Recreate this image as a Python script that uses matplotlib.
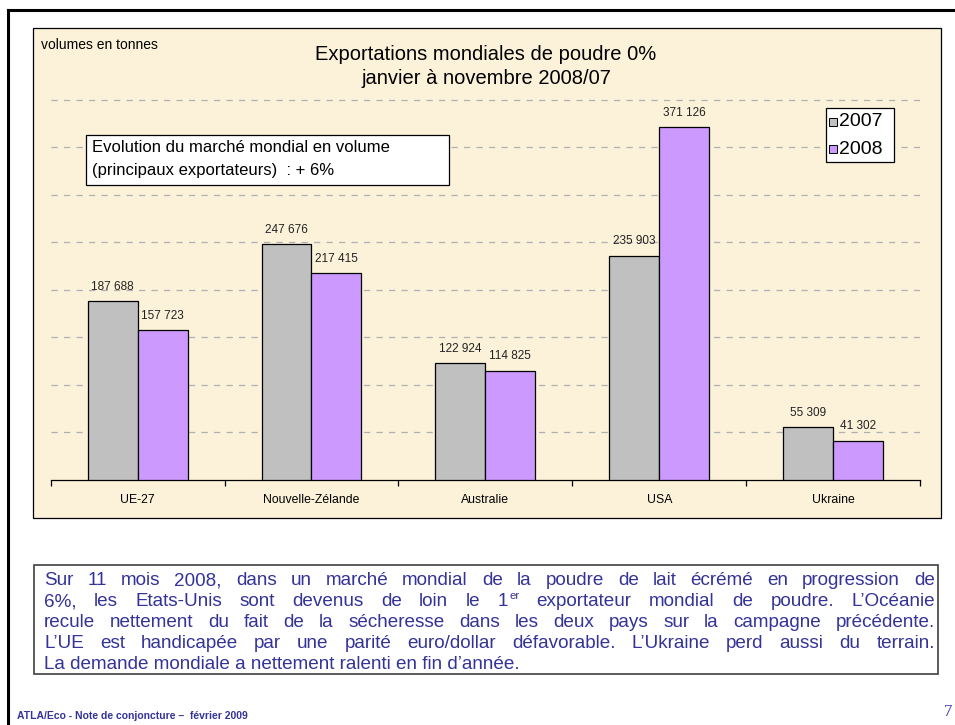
import matplotlib
matplotlib.use("Agg")
import matplotlib.pyplot as plt
import numpy as np
from matplotlib.patches import Rectangle
from matplotlib.lines import Line2D


#############################  DATA  #############################

countries = ["UE-27", "Nouvelle-Zélande", "Australie", "USA", "Ukraine"]
vol_2007 = [187688, 247676, 122924, 235903, 55309]
vol_2008 = [157723, 217415, 114825, 371126, 41302]
years = ["2007", "2008"]

title_lines = ["Exportations mondiales de poudre 0%", "janvier à novembre 2008/07"]
note_lines = ["Evolution du marché mondial en volume",
              "(principaux exportateurs)  : + 6%"]
paragraph = [
    "Sur 11 mois 2008, dans un marché mondial de la poudre de lait écrémé en progression de",
    "6%, les Etats-Unis sont devenus de loin le 1^er exportateur mondial de poudre. L’Océanie",
    "recule nettement du fait de la sécheresse dans les deux pays sur la campagne précédente.",
    "L’UE est handicapée par une parité euro/dollar défavorable. L’Ukraine perd aussi du terrain.",
    "La demande mondiale a nettement ralenti en fin d’année.",
]
footer = "ATLA/Eco - Note de conjoncture –  février 2009"
page_no = "7"


#############################  STYLE  #############################

W, H = 955, 725
SANS = ["Liberation Sans", "DejaVu Sans"]
NARROW = ["Liberation Sans Narrow", "Liberation Sans", "DejaVu Sans"]
BLUE = "#333399"
GREY = "#C0C0C0"
PURPLE = "#CC99FF"
BEIGE = "#FBF2D9"


def fx(x):
    return x / W


def fy(y):
    return 1 - y / H


def fmt(v):
    return f"{v:,}".replace(",", " ")


fig = plt.figure(figsize=(W / 100, H / 100), dpi=100)
fig.patch.set_facecolor("white")

# page frame (top and left black lines)
fig.add_artist(Line2D([fx(8), fx(955)], [fy(10), fy(10)], color="black", lw=2.2))
fig.add_artist(Line2D([fx(8), fx(8)], [fy(10), fy(725)], color="black", lw=2.2))

# chart panel
fig.add_artist(Rectangle((fx(33), fy(518)), fx(941) - fx(33), fy(28) - fy(518),
                         facecolor=BEIGE, edgecolor="black", lw=0.9, zorder=0))

ax_left, ax_right, ax_bottom, ax_top = 50.7, 920, 480, 52
ax = fig.add_axes([fx(ax_left), fy(ax_bottom), fx(ax_right) - fx(ax_left),
                   fy(ax_top) - fy(ax_bottom)])
ax.set_facecolor("none")

x = np.arange(len(countries))
bw = 0.2875
b1 = ax.bar(x - bw / 2, vol_2007, bw, color=GREY, edgecolor="black", lw=0.9, zorder=3)
b2 = ax.bar(x + bw / 2, vol_2008, bw, color=PURPLE, edgecolor="black", lw=0.9, zorder=3)

for bars in (b1, b2):
    for r in bars:
        ax.annotate(fmt(int(r.get_height())), (r.get_x() + r.get_width() / 2, r.get_height()),
                    xytext=(0, 6), textcoords="offset points", ha="center", va="bottom",
                    fontsize=8.5, family=NARROW, color="#222222")

ax.set_xlim(-0.5, len(countries) - 0.5)
ax.set_ylim(0, 450000)
ax.set_yticks(np.arange(50000, 400001, 50000))
ax.yaxis.grid(True, color="#B0B0B0", lw=0.9, dashes=(5, 5))
ax.set_axisbelow(True)
ax.tick_params(axis="y", left=False, labelleft=False)
ax.set_xticks(x)
ax.set_xticklabels(countries, fontsize=8.8, family=NARROW)
ax.tick_params(axis="x", which="major", length=0, pad=10)
ax.set_xticks(np.arange(-0.5, len(countries)), minor=True)
ax.tick_params(axis="x", which="minor", length=4, width=0.9, direction="out")
for s in ("left", "right", "top"):
    ax.spines[s].set_visible(False)
ax.spines["bottom"].set_linewidth(0.9)

# titles and labels
fig.text(fx(41), fy(45), "volumes en tonnes", fontsize=10, family=SANS, va="center")
fig.text(fx(486), fy(55), title_lines[0], fontsize=14.5, family=SANS, ha="center", va="center")
fig.text(fx(486), fy(79), title_lines[1], fontsize=14.5, family=SANS, ha="center", va="center")

# note box
fig.add_artist(Rectangle((fx(86), fy(185)), fx(449) - fx(86), fy(135) - fy(185),
                         facecolor="white", edgecolor="black", lw=0.9, zorder=4))
fig.text(fx(92), fy(148), note_lines[0], fontsize=12, family=SANS, va="center", zorder=5)
fig.text(fx(92), fy(171), note_lines[1], fontsize=12, family=SANS, va="center", zorder=5)

# legend box
fig.add_artist(Rectangle((fx(826), fy(162)), fx(894) - fx(826), fy(108) - fy(162),
                         facecolor="white", edgecolor="black", lw=0.9, zorder=4))
for i, (lab, col) in enumerate(zip(years, [GREY, PURPLE])):
    yc = 122 + i * 27
    fig.add_artist(Rectangle((fx(829), fy(yc + 4)), fx(8), fx(8) * W / H,
                             facecolor=col, edgecolor="black", lw=0.7, zorder=5))
    fig.text(fx(839), fy(yc), lab, fontsize=14, family=SANS, va="center", zorder=5)

# commentary box
fig.add_artist(Rectangle((fx(34), fy(674)), fx(938) - fx(34), fy(565) - fy(674),
                         facecolor="white", edgecolor="#404040", lw=1.2, zorder=1))

fig.canvas.draw()
renderer = fig.canvas.get_renderer()
PSIZE = 13.6


def width_of(s, size):
    t = fig.text(0, 0, s, fontsize=size, family=SANS)
    w = t.get_window_extent(renderer).width
    t.remove()
    return w


space_w = width_of("a a", PSIZE) - width_of("aa", PSIZE)
x0, x1 = 44, 935
for li, line in enumerate(paragraph):
    yb = 585 + li * 21.1
    if li == len(paragraph) - 1:
        # last line is not justified
        fig.text(fx(x0), fy(yb), line, fontsize=PSIZE, family=SANS, color=BLUE,
                 va="baseline", zorder=2)
        continue
    words = line.split(" ")
    widths = []
    for w in words:
        if "^" in w:
            base, sup = w.split("^")
            widths.append(width_of(base, PSIZE) + width_of(sup, PSIZE * 0.6) + 1)
        else:
            widths.append(width_of(w, PSIZE))
    gap = max(space_w * 0.8, (x1 - x0 - sum(widths)) / (len(words) - 1))
    xp = x0
    for w, wd in zip(words, widths):
        if "^" in w:
            base, sup = w.split("^")
            fig.text(fx(xp), fy(yb), base, fontsize=PSIZE, family=SANS, color=BLUE,
                     va="baseline", zorder=2)
            fig.text(fx(xp + width_of(base, PSIZE) + 1), fy(yb - 7), sup, fontsize=PSIZE * 0.6,
                     family=SANS, color=BLUE, va="baseline", zorder=2)
        else:
            fig.text(fx(xp), fy(yb), w, fontsize=PSIZE, family=SANS, color=BLUE,
                     va="baseline", zorder=2)
        xp += wd + gap

# footer
fig.text(fx(17), fy(716), footer, fontsize=7.5, family=SANS, weight="bold", color=BLUE,
         va="center")
fig.text(fx(944), fy(712), page_no, fontsize=12, family=["Liberation Serif", "DejaVu Serif"],
         color="#3333CC", va="center")

fig.savefig("out.png", dpi=100)
